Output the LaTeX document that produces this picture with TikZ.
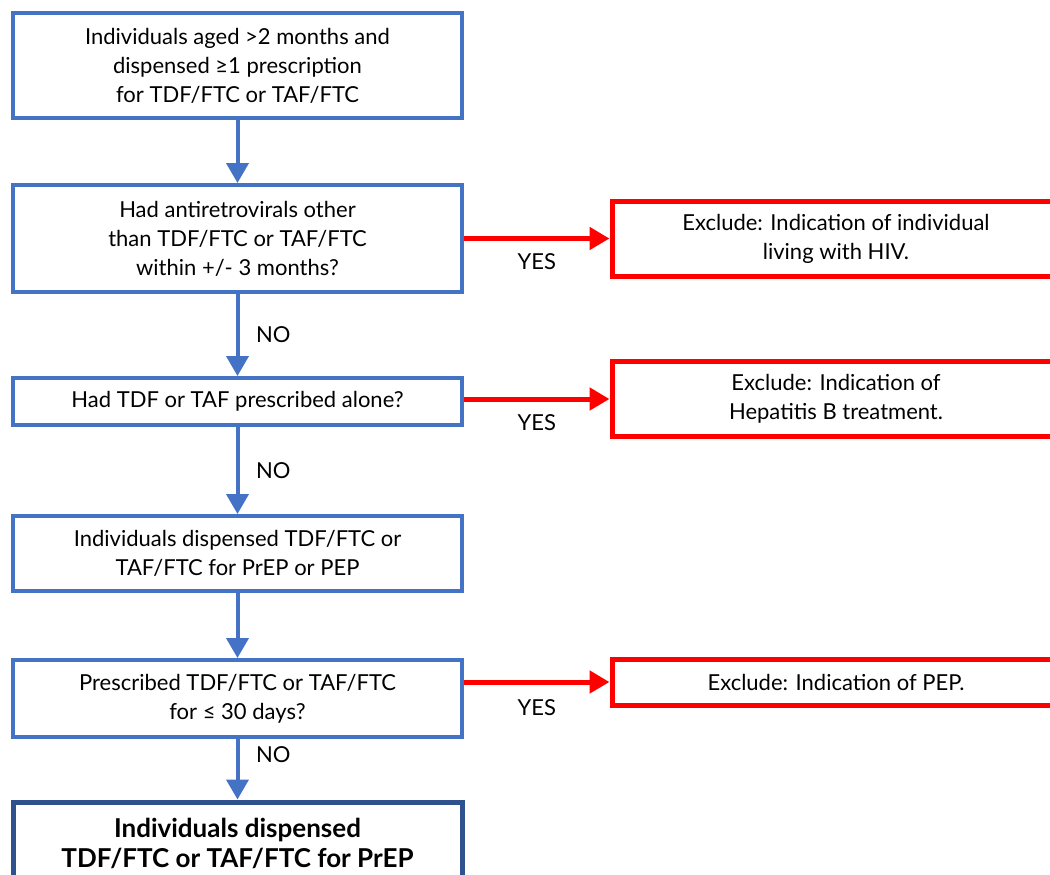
\documentclass[tikz,border=0pt]{standalone}
\usepackage{fontspec}
\setmainfont{Lato}
\usetikzlibrary{arrows.meta}
\definecolor{boxblue}{HTML}{4472C4}
\definecolor{darkblue}{HTML}{2F528F}
\definecolor{exred}{HTML}{FF0000}
\tikzset{
  bluebox/.style={draw=boxblue, line width=2pt, fill=white, minimum width=224.5pt, align=center, font=\fontsize{11}{14.5}\selectfont},
  redbox/.style={draw=exred, line width=2.5pt, fill=white, minimum width=224pt, align=center, font=\fontsize{11}{14.5}\selectfont},
  bluearrow/.style={draw=boxblue, line width=2pt, -{Triangle[width=11pt,length=10pt]}},
  redarrow/.style={draw=exred, line width=2.5pt, -{Triangle[width=11pt,length=10pt]}},
  lbl/.style={font=\fontsize{11}{13}\selectfont}
}
\begin{document}
\begin{tikzpicture}[x=0.5pt,y=-0.5pt]
\useasboundingbox (0,0) rectangle (1050,874);
\clip (0,0) rectangle (1050,874);
% main column
\node[bluebox, minimum height=52.5pt] (start) at (237.5,65.5) {Individuals aged >2 months and\\dispensed ≥1 prescription\\for TDF/FTC or TAF/FTC};
\node[bluebox, minimum height=53.5pt] (arv) at (237.5,238.5) {Had antiretrovirals other\\than TDF/FTC or TAF/FTC\\within +/- 3 months?};
\node[bluebox, minimum height=23.5pt] (alone) at (237.5,401.5) {Had TDF or TAF prescribed alone?};
\node[bluebox, minimum height=37.5pt] (prpep) at (237.5,553.5) {Individuals dispensed TDF/FTC or\\TAF/FTC for PrEP or PEP};
\node[bluebox, minimum height=38.5pt] (days) at (237.5,698.5) {Prescribed TDF/FTC or TAF/FTC\\for ≤ 30 days?};
\node[bluebox, draw=darkblue, line width=2.5pt, minimum height=41pt, font=\fontsize{13}{15}\selectfont\bfseries] (prep) at (237.5,843) {Individuals dispensed\\TDF/FTC or TAF/FTC for PrEP};
% exclusions
\node[redbox, minimum height=37.5pt] (hiv) at (836,238.5) {Exclude: Indication of individual\\living with HIV.};
\node[redbox, minimum height=37.5pt] (hbv) at (836,399) {Exclude: Indication of\\Hepatitis B treatment.};
\node[redbox, minimum height=23pt] (pep) at (836,682) {Exclude: Indication of PEP.};
% connectors
\draw[bluearrow] (start) -- (arv);
\draw[bluearrow] (arv) -- node[lbl, right=5pt] {NO} (alone);
\draw[bluearrow] (alone) -- node[lbl, right=5pt] {NO} (prpep);
\draw[bluearrow] (prpep) -- (days);
\draw[bluearrow] (days) -- node[lbl, right=5pt, pos=0.25] {NO} (prep);
\draw[redarrow] (arv) -- node[lbl, below=3pt] {YES} (hiv);
\draw[redarrow] (alone.east |- hbv.west) -- node[lbl, below=3pt] {YES} (hbv);
\draw[redarrow] (days.east |- pep.west) -- node[lbl, below=4pt] {YES} (pep);
\end{tikzpicture}
\end{document}
